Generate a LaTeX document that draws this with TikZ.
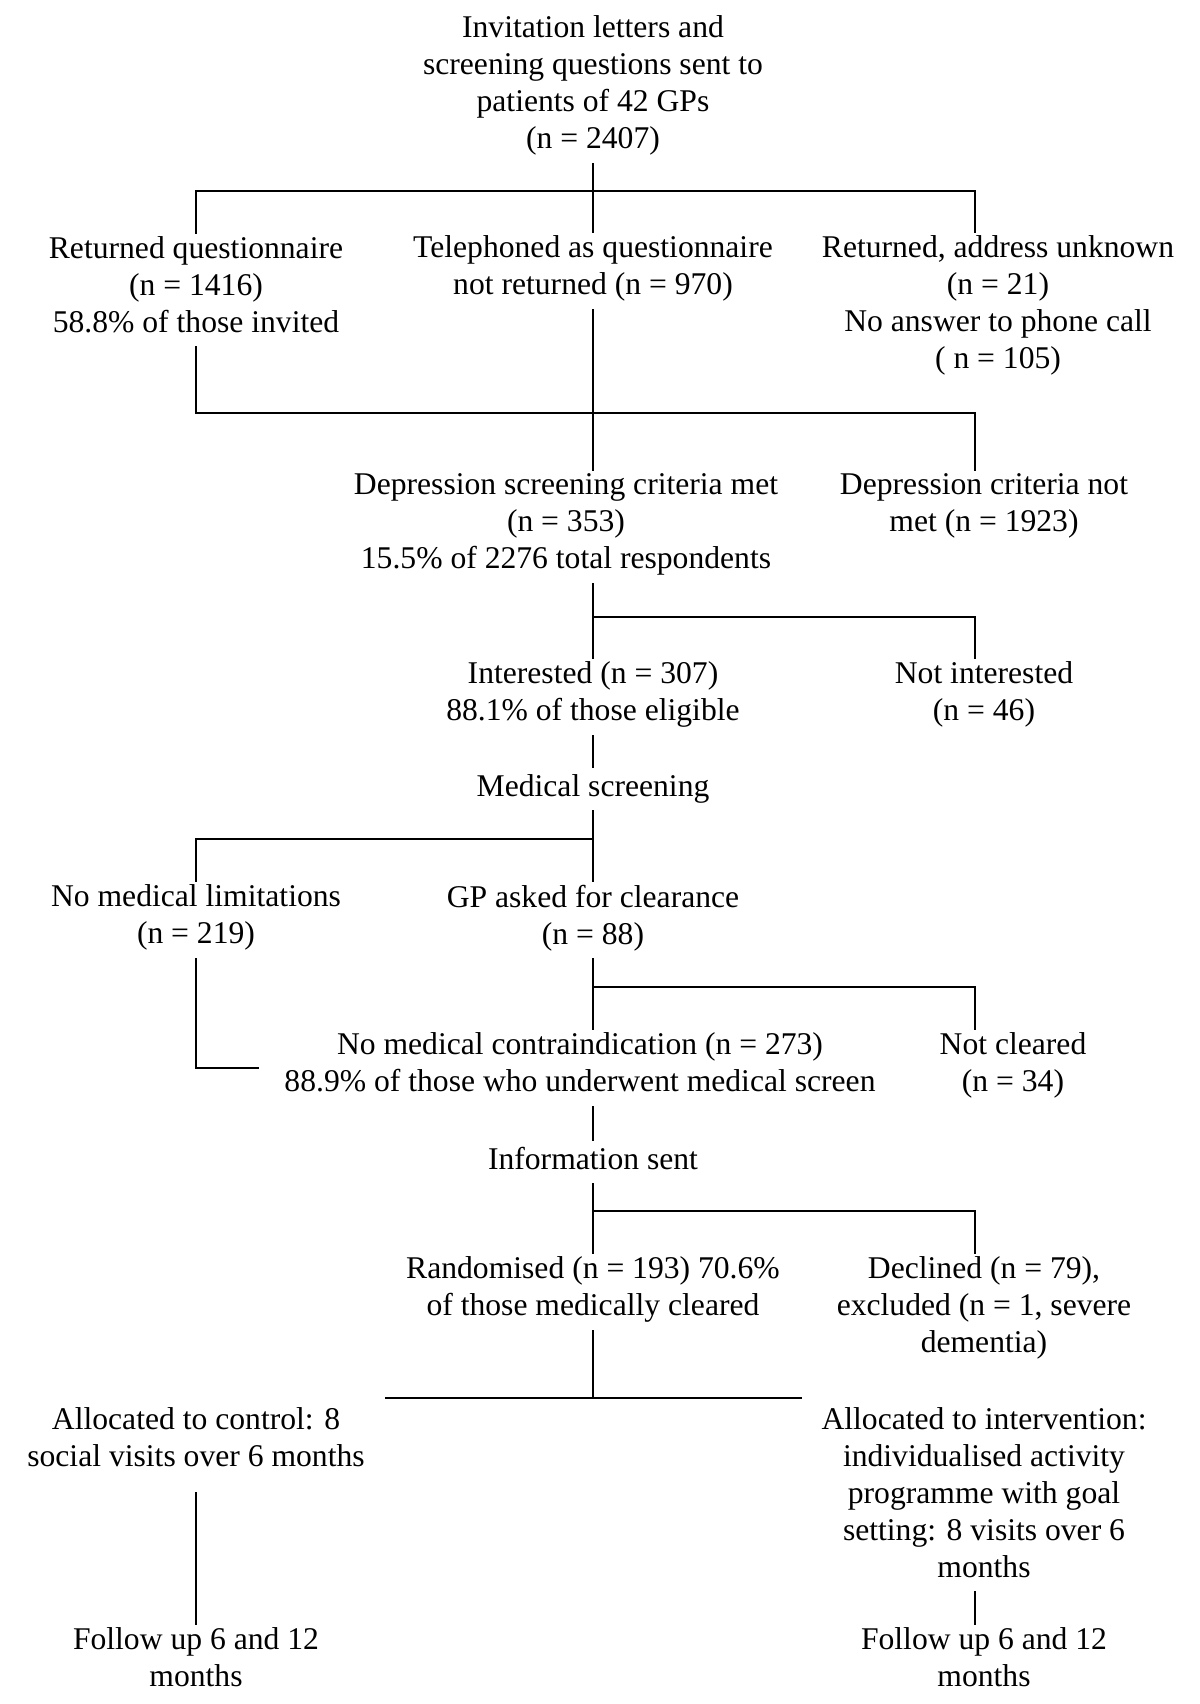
\documentclass[tikz,border=0pt]{standalone}
\usepackage{fontspec}
\setmainfont{Liberation Serif}

\begin{document}
\begin{tikzpicture}[x=0.02cm, y=-0.02cm,
    box/.style={align=center, inner sep=1.5pt, font=\fontsize{18}{21.05}\selectfont,
      execute at begin node=\strut, execute at end node=\strut},
    link/.style={line width=0.8pt}]
    \useasboundingbox (0,0) rectangle (1200,1704);

    % Columns and bars
    \coordinate (lcol) at (196,0);
    \coordinate (ccol) at (593,0);
    \coordinate (rcol) at (975,0);
    \coordinate (bar1) at (593,191);
    \coordinate (bar2) at (593,413);
    \coordinate (bar3) at (593,617);
    \coordinate (bar4) at (593,839);
    \coordinate (bar5) at (593,987);
    \coordinate (bar6) at (593,1211);
    \coordinate (bar7) at (593,1398);
    \coordinate (armL) at (385,1398);
    \coordinate (armR) at (802,1398);

    % Boxes
    \node[box] (invite) at (593,88) {Invitation letters and\\screening questions sent to\\patients of 42 GPs\\(n = 2407)};
    \node[box] (returned) at (196,290) {Returned questionnaire\\(n = 1416)\\58.8\% of those invited};
    \node[box] (phoned) at (593,271) {Telephoned as questionnaire\\not returned (n = 970)};
    \node[box] (unknown) at (998,308) {Returned, address unknown\\(n = 21)\\No answer to phone call\\( n = 105)};
    \node[box] (met) at (566,527) {Depression screening criteria met\\(n = 353)\\15.5\% of 2276 total respondents};
    \node[box] (notmet) at (984,508) {Depression criteria not\\met (n = 1923)};
    \node[box] (interested) at (593,697) {Interested (n = 307)\\88.1\% of those eligible};
    \node[box] (notint) at (984,697) {Not interested\\(n = 46)};
    \node[box] (medscreen) at (593,789) {Medical screening};
    \node[box] (nolimit) at (196,920) {No medical limitations\\(n = 219)};
    \node[box] (gpasked) at (593,920) {GP asked for clearance\\(n = 88)};
    \node[box] (contra) at (580,1068) {No medical contraindication (n = 273)\\88.9\% of those who underwent medical screen};
    \node[box] (notcleared) at (1013,1068) {Not cleared\\(n = 34)};
    \node[box] (info) at (593,1162) {Information sent};
    \node[box] (random) at (593,1292) {Randomised (n = 193) 70.6\%\\of those medically cleared};
    \node[box] (declined) at (984,1310) {Declined (n = 79),\\excluded (n = 1, severe\\dementia)};
    \node[box] (control) at (196,1443) {Allocated to control: 8\\social visits over 6 months};
    \node[box] (interv) at (984,1498) {Allocated to intervention:\\individualised activity\\programme with goal\\setting: 8 visits over 6\\months};
    \node[box] (follow1) at (196,1663) {Follow up 6 and 12\\months};
    \node[box] (follow2) at (984,1663) {Follow up 6 and 12\\months};

    % Connectors
    \draw[link] (invite.south) -- (phoned.north);
    \draw[link] (returned.north) |- (rcol |- bar1) -- (unknown.north -| rcol);
    \draw[link] (returned.south) |- (rcol |- bar2) -- (notmet.north -| rcol);
    \draw[link] (phoned.south) -- (met.north -| ccol);
    \draw[link] (met.south -| ccol) -- (interested.north);
    \draw[link] (bar3) -| (notint.north -| rcol);
    \draw[link] (interested.south) -- (medscreen.north);
    \draw[link] (medscreen.south) -- (gpasked.north);
    \draw[link] (bar4) -| (nolimit.north);
    \draw[link] (gpasked.south) -- (contra.north -| ccol);
    \draw[link] (bar5) -| (notcleared.north -| rcol);
    \draw[link] (nolimit.south) |- ([xshift=-0.45cm]contra.west);
    \draw[link] (contra.south -| ccol) -- (info.north);
    \draw[link] (info.south) -- (random.north);
    \draw[link] (bar6) -| (declined.north -| rcol);
    \draw[link] (random.south) -- (bar7);
    \draw[link] (armL) -- (armR);
    \draw[link, shorten <=0.22cm] (control.south) -- (follow1.north);
    \draw[link] (interv.south -| rcol) -- (follow2.north -| rcol);
\end{tikzpicture}
\end{document}
